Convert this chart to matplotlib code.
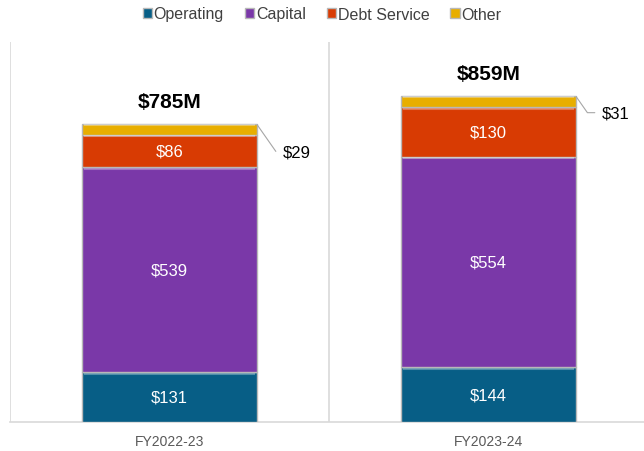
import matplotlib as mpl
mpl.use("Agg")
import matplotlib.pyplot as plt
import numpy as np

plt.rcParams["font.family"] = ["Liberation Sans", "DejaVu Sans"]

years = ["FY2022-23", "FY2023-24"]
series = ["Operating", "Capital", "Debt Service", "Other"]
operating = [131, 144]
capital = [539, 554]
debt_service = [86, 130]
other = [29, 31]
totals = ["$785M", "$859M"]

COLORS = ["#075E86", "#7A38A8", "#D83B03", "#E8AE00"]

fig = plt.figure(figsize=(6.44, 4.52), dpi=100)
ax = fig.add_axes([10 / 644, 29 / 452, 638 / 644, 380 / 452])

x = np.arange(len(years))
width = 0.55
bottom = np.zeros(len(years))
values = [operating, capital, debt_service, other]
for name, vals, color in zip(series, values, COLORS):
    vals = np.array(vals, dtype=float)
    bars = ax.bar(x, vals, width, bottom=bottom, color=color, edgecolor="#b8b8b8",
                  linewidth=1.0, label=name, zorder=3)
    # subtle bevel highlight along the top of each segment
    for rect in bars:
        ax.plot([rect.get_x() + 0.01, rect.get_x() + rect.get_width() - 0.01],
                [rect.get_y() + rect.get_height() - 4] * 2,
                color="white", alpha=0.3, lw=1.5, zorder=4)
    if name != "Other":
        for xi, b, v in zip(x, bottom, vals):
            ax.text(xi, b + v / 2, f"${int(v)}", ha="center", va="center",
                    color="white", fontsize=12, zorder=5)
    bottom += vals

# leader-line labels for "Other"
label_drop = [74, 45]
for xi, top, v, drop in zip(x, bottom, other, label_drop):
    x0 = xi + width / 2
    ax.annotate(f"${v}", xy=(x0, top - 3), xytext=(x0 + 0.08, top - drop),
                textcoords="data", ha="left", va="center", fontsize=12, color="black",
                arrowprops=dict(arrowstyle="-", color="#a6a6a6", lw=0.8,
                                connectionstyle="angle,angleA=0,angleB=-55,rad=0",
                                shrinkA=3, shrinkB=0))

for xi, top, lab in zip(x, bottom, totals):
    ax.text(xi, top + 58, lab, ha="center", va="center", fontsize=15,
            fontweight="bold", color="black")

ax.set_xlim(-0.5, 1.5)
ax.set_ylim(0, 1000)
ax.set_yticks([])
ax.set_xticks(x)
ax.set_xticklabels(years, fontsize=10, color="#595959")
ax.tick_params(axis="x", length=0, pad=9)
for xv in [-0.5, 0.5, 1.5]:
    ax.axvline(xv, color="#d9d9d9", lw=1.2, zorder=1)
for s in ["top", "right", "left"]:
    ax.spines[s].set_visible(False)
ax.spines["bottom"].set_color("#d9d9d9")
ax.spines["bottom"].set_linewidth(1.2)

handles, labels = ax.get_legend_handles_labels()
fig.legend(handles, labels, loc="center", bbox_to_anchor=(0.5, 1 - 15 / 452), ncol=4,
           frameon=False, fontsize=11.5, handlelength=0.6, handleheight=0.6,
           handletextpad=0.1, columnspacing=1.3, labelcolor="#404040")

fig.savefig("out.png", dpi=100, facecolor="white")
